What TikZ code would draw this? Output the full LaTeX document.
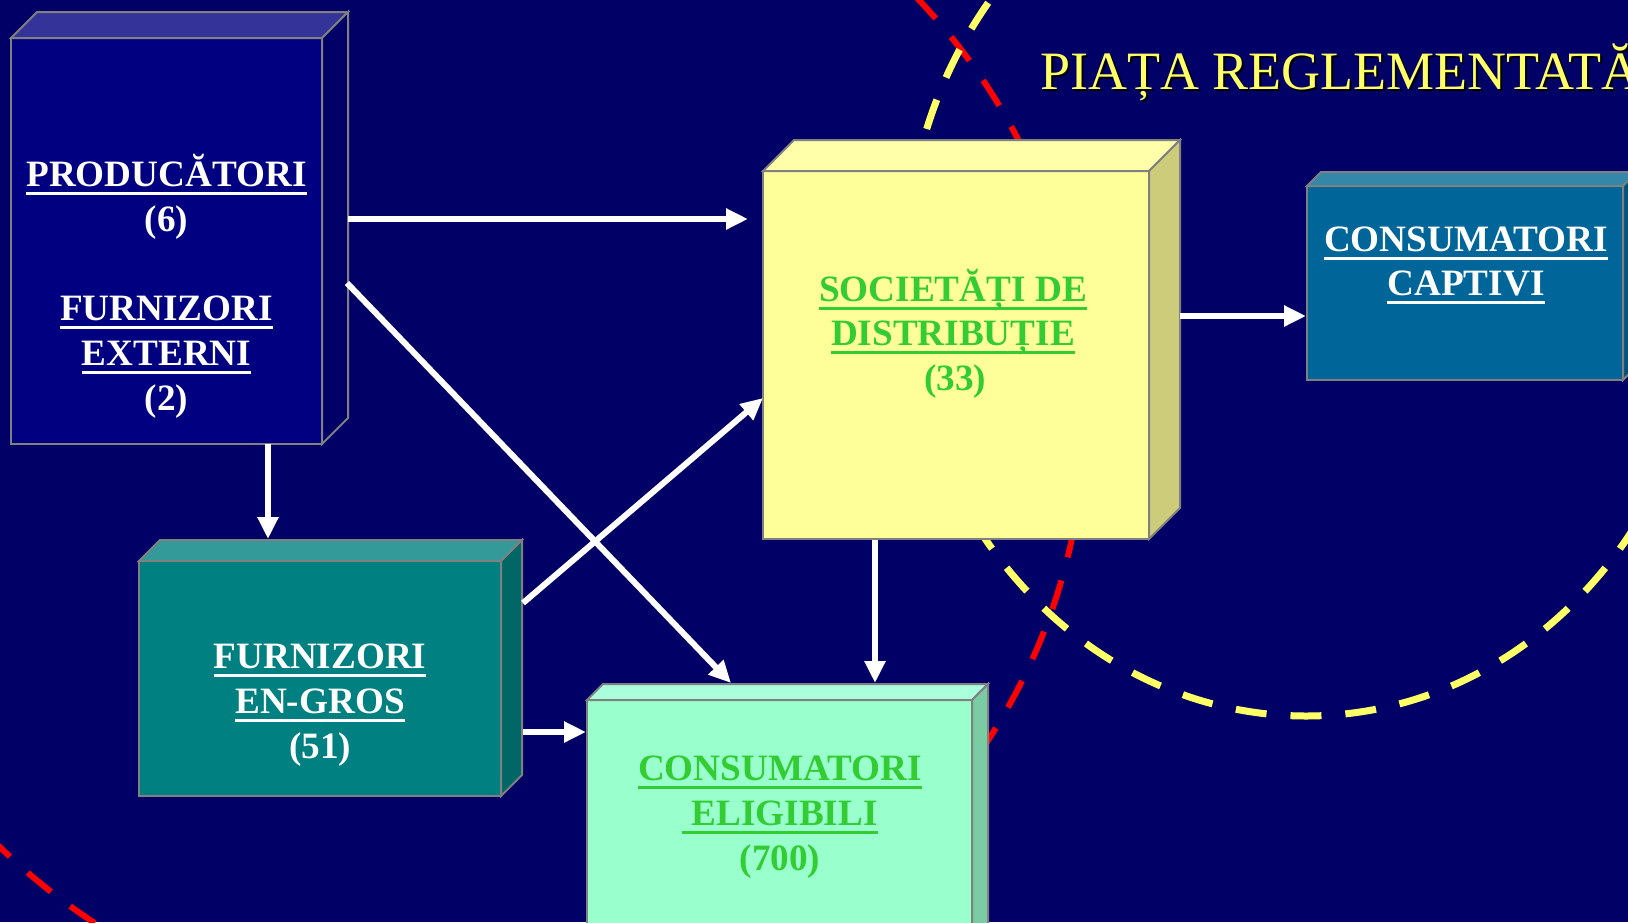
\documentclass[tikz,border=0pt]{standalone}
\usepackage{fontspec}
\setmainfont{Liberation Serif}
\usetikzlibrary{arrows.meta,calc}
\definecolor{bg}{RGB}{0,0,102}
\definecolor{edge}{RGB}{128,128,128}
\definecolor{oneF}{RGB}{0,0,128}\definecolor{oneT}{RGB}{51,51,153}\definecolor{oneS}{RGB}{0,0,102}
\definecolor{twoF}{RGB}{255,255,153}\definecolor{twoT}{RGB}{255,255,170}\definecolor{twoS}{RGB}{204,204,122}
\definecolor{thrF}{RGB}{0,102,153}\definecolor{thrT}{RGB}{51,136,170}\definecolor{thrS}{RGB}{0,82,122}
\definecolor{fouF}{RGB}{0,128,128}\definecolor{fouT}{RGB}{51,153,153}\definecolor{fouS}{RGB}{0,102,102}
\definecolor{fivF}{RGB}{153,255,204}\definecolor{fivT}{RGB}{170,255,221}\definecolor{fivS}{RGB}{122,204,163}
\definecolor{txtgreen}{RGB}{51,204,51}
\definecolor{dashyellow}{RGB}{255,255,102}
\definecolor{titleyellow}{RGB}{255,255,102}
\newsavebox\ulbox
\newcommand\ulx[1]{\sbox\ulbox{#1}\rlap{\rule[-4.5pt]{\wd\ulbox}{1.5pt}}\usebox\ulbox}
\newcommand\boxfaces[4]{%
  \draw[face,fill=#3] (#1.north west) -- ++(#2,-#2) -- ($(#1.north east)+(#2,-#2)$) -- (#1.north east) -- cycle;
  \draw[face,fill=#4] (#1.north east) -- ++(#2,-#2) -- ($(#1.south east)+(#2,-#2)$) -- (#1.south east) -- cycle;}
\tikzset{
  face/.style={draw=edge, line width=1pt, line join=miter},
  boxnode/.style={face, inner sep=0pt, outer sep=0pt},
  lbl/.style={anchor=base, inner sep=0pt, font=\fontsize{18.6pt}{22.5pt}\selectfont\bfseries},
  arr/.style={draw=white, line width=3pt, -{Triangle[length=11pt,width=10pt]}},
  dashline/.style={line width=3pt, dash pattern=on 15pt off 12pt}
}
\begin{document}
\begin{tikzpicture}[x=0.5pt,y=-0.5pt]
\useasboundingbox (0,0) rectangle (1628,922);
\clip (0,0) rectangle (1628,922);
\fill[bg] (0,0) rectangle (1628,922);
% dashed boundaries
\coordinate (redc) at (450,414);
\coordinate (yelc) at (1306,273);
\draw[red, dashline] (redc) ellipse [x radius=317.5pt, y radius=307pt];
\draw[dashyellow, dashline, line width=3.5pt, dash pattern=on 15.5pt off 12pt]
  ([shift={(135:200.5pt and 221.5pt)}]yelc) arc [start angle=135, end angle=360, x radius=200.5pt, y radius=221.5pt];
% title
\node[anchor=base west, inner sep=0pt, text=black, font=\fontsize{27pt}{32pt}\selectfont] (titleshadow) at (1042,91) {PIAȚA REGLEMENTATĂ};
\node[anchor=base west, inner sep=0pt, text=titleyellow, font=\fontsize{27pt}{32pt}\selectfont] (title) at (1040,89) {PIAȚA REGLEMENTATĂ};
% boxes
\node[boxnode, fill=oneF, minimum width=155.5pt, minimum height=203pt] (prod) at (166.5,241) {};
\boxfaces{prod}{26}{oneT}{oneS}
\node[boxnode, fill=twoF, minimum width=193pt, minimum height=184pt] (dist) at (956,355) {};
\boxfaces{dist}{31}{twoT}{twoS}
\node[boxnode, fill=thrF, minimum width=158pt, minimum height=97pt] (capt) at (1465,283) {};
\boxfaces{capt}{14}{thrT}{thrS}
\node[boxnode, fill=fouF, minimum width=181pt, minimum height=117.5pt] (gros) at (320,678.5) {};
\boxfaces{gros}{21}{fouT}{fouS}
\node[boxnode, fill=fivF, minimum width=192.5pt, minimum height=200pt] (elig) at (779.5,900) {};
\boxfaces{elig}{16}{fivT}{fivS}
% labels
\node[lbl, text=white] (p1) at (166.5,186) {\ulx{PRODUCĂTORI}};
\node[lbl, text=white] (p2) at (166.5,231) {(6)};
\node[lbl, text=white] (p3) at (166.5,320) {\ulx{FURNIZORI}};
\node[lbl, text=white] (p4) at (166.5,365) {\ulx{EXTERNI}};
\node[lbl, text=white] (p5) at (166.5,410) {(2)};
\node[lbl, text=txtgreen] (d1) at (953,301) {\ulx{SOCIETĂȚI DE}};
\node[lbl, text=txtgreen] (d2) at (953,345) {\ulx{DISTRIBUȚIE}};
\node[lbl, text=txtgreen] (d3) at (955,390) {(33)};
\node[lbl, text=white] (c1) at (1466,251) {\ulx{CONSUMATORI}};
\node[lbl, text=white] (c2) at (1466,295) {\ulx{CAPTIVI}};
\node[lbl, text=white] (g1) at (320,668) {\ulx{FURNIZORI}};
\node[lbl, text=white] (g2) at (320,713) {\ulx{EN-GROS}};
\node[lbl, text=white] (g3) at (320,758) {(51)};
\node[lbl, text=txtgreen] (e1) at (780,780) {\ulx{CONSUMATORI}};
\node[lbl, text=txtgreen] (e2) at (780,825) {\ulx{\ ELIGIBILI}};
\node[lbl, text=txtgreen] (e3) at (780,870) {(700)};
% arrow end points
\coordinate (a1s) at (348,219); \coordinate (a1e) at (748,219);
\coordinate (a2s) at (347,283); \coordinate (a2e) at (731,683);
\coordinate (a3s) at (268,444); \coordinate (a3e) at (268,539);
\coordinate (a4s) at (523,603); \coordinate (a4e) at (763,398);
\coordinate (a5s) at (523,732); \coordinate (a5e) at (586,732);
\coordinate (a6s) at (875,540); \coordinate (a6e) at (875,683);
\coordinate (a7s) at (1180,316); \coordinate (a7e) at (1306,316);
\draw[arr] (a1s) -- (a1e);
\draw[arr] (a2s) -- (a2e);
\draw[arr] (a3s) -- (a3e);
\draw[arr] (a4s) -- (a4e);
\draw[arr] (a5s) -- (a5e);
\draw[arr] (a6s) -- (a6e);
\draw[arr] (a7s) -- (a7e);
\end{tikzpicture}
\end{document}
